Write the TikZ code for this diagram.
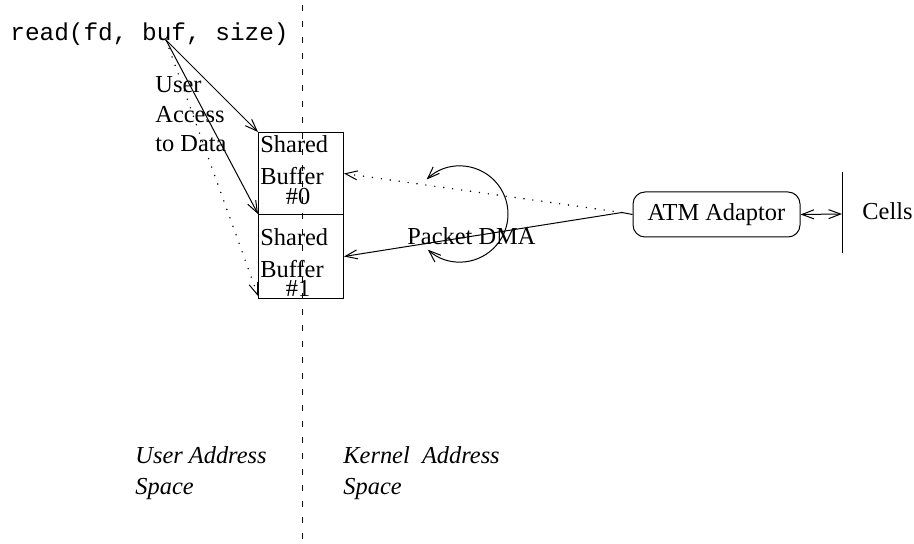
\documentclass[tikz,border=0pt]{standalone}
\usepackage{fontspec}
\setmainfont{Liberation Serif}
\setmonofont{Liberation Mono}
\usetikzlibrary{arrows.meta,calc}
\begin{document}
\begin{tikzpicture}[x=0.5pt,y=-0.5pt,
  every node/.style={inner sep=0pt, font=\fontsize{12.2}{14}\selectfont},
  lbl/.style={anchor=base west},
  bufbox/.style={draw, line width=0.5pt, minimum width=42.5pt, anchor=north west},
  tip/.style={-{Straight Barb[length=6pt,width=4.5pt,line width=0.5pt]}},
  dtip/.style={{Straight Barb[length=6pt,width=4.5pt]}-{Straight Barb[length=6pt,width=4.5pt]}},
  conn/.style={line width=0.5pt},
  dots/.style={line width=0.8pt, line cap=round, dash pattern=on 0pt off 4.5pt},
  divider/.style={line width=0.5pt, dash pattern=on 3pt off 5pt}]
\useasboundingbox (0,0) rectangle (914,544);
% dividing line
\coordinate (dtop) at (302,5);
\coordinate (dbot) at (302,544);
\draw[divider] (dtop) -- (dbot);
% call
\node[lbl] (read) at (10,41) {\ttfamily read(fd, buf, size)};
\coordinate (buf) at (166,40);
% user access label
\node[lbl] (l1) at (155,93) {User};
\node[lbl] (l2) at (155,123) {Access};
\node[lbl] (l3) at (155,152) {to Data};
% shared buffers
\node[bufbox, minimum height=41pt] (b0) at (258,132) {};
\node[bufbox, minimum height=42pt] (b1) at (258,214) {};
\node[lbl] (b0a) at (260,153) {Shared};
\node[lbl] (b0b) at (260,185) {Buffer};
\node[anchor=base] (b0c) at (298,205) {\#0};
\node[lbl] (b1a) at (260,246) {Shared};
\node[lbl] (b1b) at (260,278) {Buffer};
\node[anchor=base] (b1c) at (298,297) {\#1};
% user access arrows
\draw[conn,tip] (buf) -- (b0.north west);
\draw[conn,tip] (buf) -- (b1.north west);
\draw[dots,tip] (buf) -- ($(b1.south west)+(0,-3)$);
% ATM adaptor
\node[draw, line width=0.5pt, rounded corners=6pt, minimum width=83.5pt, minimum height=22.5pt] (atm) at (716.5,214.5) {ATM Adaptor};
\coordinate (atmL) at (622,212.5);
\coordinate (ctop) at (842,172);
\coordinate (cbot) at (842,253);
\coordinate (cmid) at (842,214);
\draw[conn] (ctop) -- (cbot);
\draw[conn,dtip] (atm.east) -- (cmid);
\node[lbl] (cells) at (862,220) {Cells};
% DMA
\draw[dots,tip] (atmL) -- (b0.east);
\draw[conn,tip] (atmL) -- (b1.east);
\draw[conn] (atmL) -- (atm.west);
\coordinate (cc) at (460,214);
\draw[conn,dtip] (cc) ++(-134:48) arc[start angle=-134, end angle=132, radius=48];
\node[lbl] (dma) at (407,245) {Packet DMA};
% address space labels
\node[lbl] (u1) at (135,463) {\itshape User Address};
\node[lbl] (u2) at (135,494) {\itshape Space};
\node[lbl] (k1) at (343,463) {\itshape Kernel\hspace{0.5em}Address};
\node[lbl] (k2) at (343,494) {\itshape Space};
\end{tikzpicture}
\end{document}
